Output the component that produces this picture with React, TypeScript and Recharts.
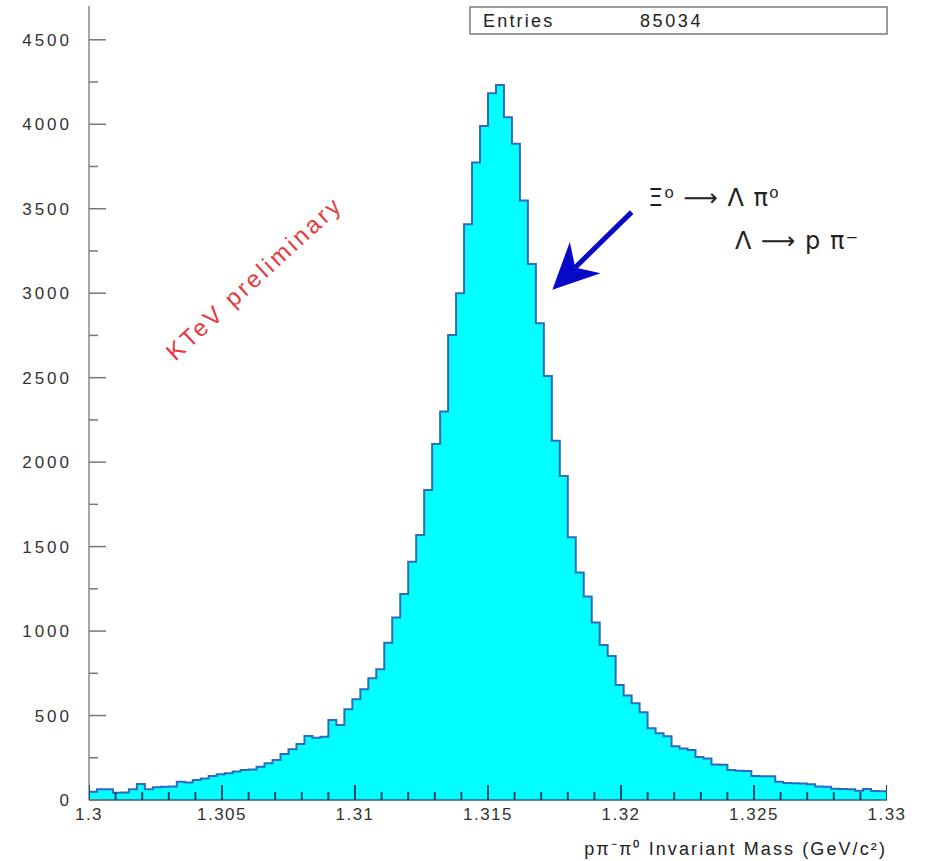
import React from 'react';
import { ComposedChart, Area, Scatter, XAxis, YAxis, ReferenceLine } from 'recharts';

// histogram binning (100 bins of 0.3 MeV)
const binLow = 1.3;
const binWidth = 0.0003;

// bin contents, left to right
const counts = [
  49, 63, 63, 43, 45, 63, 95, 63, 75, 79,
  80, 108, 103, 118, 128, 142, 152, 158, 168, 178,
  180, 197, 217, 237, 272, 300, 331, 379, 368, 375,
  474, 444, 537, 596, 655, 720, 774, 931, 1080, 1220,
  1411, 1569, 1835, 2108, 2299, 2753, 3000, 3408, 3773, 3990,
  4184, 4233, 4042, 3884, 3548, 3173, 2822, 2510, 2127, 1918,
  1555, 1346, 1204, 1050, 918, 853, 681, 618, 572, 519,
  425, 395, 377, 318, 305, 296, 255, 246, 210, 208,
  178, 173, 171, 142, 140, 141, 108, 100, 99, 98,
  93, 80, 78, 66, 65, 64, 55, 65, 53, 52,
];

const xMajorTicks = [1.3, 1.305, 1.31, 1.315, 1.32, 1.325, 1.33];
const xMinorStep = 0.001;
const yMajorTicks = [0, 500, 1000, 1500, 2000, 2500, 3000, 3500, 4000, 4500];
const yMinorStep = 250;
const yMax = 4700;
const entries = 85034;

// arrow annotation: tail -> tip, in data units
const arrowTail = { x: 1.3204, y: 3480 };
const arrowTip = { x: 1.31742, y: 3020 };

const FONT = '"Liberation Sans", Arial, Helvetica, sans-serif';
const X_TICK_MARGIN = 8;
const Y_TICK_MARGIN = 17;

const xMin = xMajorTicks[0];
const xMax = xMajorTicks[xMajorTicks.length - 1];
const xTicks = Array.from({ length: Math.round((xMax - xMin) / xMinorStep) + 1 }, (_, i) => +(xMin + i * xMinorStep).toFixed(4));
const yTicks = Array.from({ length: yMajorTicks[yMajorTicks.length - 1] / yMinorStep + 1 }, (_, i) => i * yMinorStep);

const data = counts.map((c, i) => ({ mass: +(binLow + i * binWidth).toFixed(5), count: c }));
data.push({ mass: xMax, count: counts[counts.length - 1] });

const isMajorX = (v: number) => xMajorTicks.some((t) => Math.abs(t - v) < 1e-7);

// x-axis tick marks sit on top of the fill, so they are drawn as a scatter series
const tickMarks = xTicks.map((v) => ({ mass: v, count: 0, major: isMajorX(v) }));

const TickMark = (p: any) => {
  const { cx, cy, payload } = p;
  if (cx == null || cy == null) return <g />;
  const len = payload && payload.major ? 15 : 8;
  return <path d={`M${cx},${cy}V${cy - len}`} stroke="#1d4a66" strokeWidth={2} fill="none" />;
};

const XTick = (props: any) => {
  const { x, y, payload } = props;
  const v = payload.value;
  if (!isMajorX(v)) return <g />;
  const axisY = y - X_TICK_MARGIN;
  return (
    <text x={x} y={axisY + 20} textAnchor="middle" fontSize={17} letterSpacing={1.5} fill="#333" fontFamily={FONT}>
      {parseFloat(v.toFixed(3)).toString()}
    </text>
  );
};

const YTick = (props: any) => {
  const { x, y, payload } = props;
  const v = payload.value;
  const major = v % 500 === 0;
  const axisX = x + Y_TICK_MARGIN;
  return (
    <g>
      <path d={`M${axisX},${y}H${axisX + (major ? 17 : 9)}`} stroke="#777" strokeWidth={1.5} fill="none" />
      {major && (
        <text x={x} y={y + 6} textAnchor="end" fontSize={17} letterSpacing={3} fill="#333" fontFamily={FONT}>
          {v}
        </text>
      )}
    </g>
  );
};

const ArrowShape = (p: any) => {
  const { x1, y1, x2, y2 } = p;
  const dx = x2 - x1;
  const dy = y2 - y1;
  const len = Math.hypot(dx, dy) || 1;
  const ux = dx / len;
  const uy = dy / len;
  const px = -uy;
  const py = ux;
  const headLen = 46;
  const half = 22;
  const notch = 32;
  const bx = x2 - ux * headLen;
  const by = y2 - uy * headLen;
  const nx = x2 - ux * notch;
  const ny = y2 - uy * notch;
  return (
    <g>
      <line x1={x1} y1={y1} x2={nx} y2={ny} stroke="#0808c8" strokeWidth={5} />
      <polygon
        points={`${x2},${y2} ${bx + px * half},${by + py * half} ${nx},${ny} ${bx - px * half},${by - py * half}`}
        fill="#0808c8"
      />
    </g>
  );
};

export default function App() {
  return (
    <div style={{ position: 'absolute', left: 0, top: 0, width: 925, height: 861, background: '#fff' }}>
      <ComposedChart width={925} height={861} data={data} margin={{ top: 6, right: 38, bottom: 0, left: 0 }}>
        <XAxis
          xAxisId="main"
          dataKey="mass"
          type="number"
          domain={[xMin, xMax]}
          ticks={xTicks}
          interval={0}
          height={61}
          tickSize={0}
          tickMargin={X_TICK_MARGIN}
          tickLine={false}
          tick={<XTick />}
          axisLine={{ stroke: '#35607a', strokeWidth: 1.5 }}
          allowDataOverflow
        />
        <XAxis
          xAxisId="top"
          orientation="top"
          type="number"
          domain={[xMin, xMax]}
          height={0}
          tick={false}
          tickLine={false}
          axisLine={{ stroke: '#888', strokeWidth: 1.2 }}
        />
        <YAxis
          yAxisId="main"
          type="number"
          domain={[0, yMax]}
          ticks={yTicks}
          interval={0}
          width={89}
          tickSize={0}
          tickMargin={Y_TICK_MARGIN}
          tickLine={false}
          tick={<YTick />}
          axisLine={{ stroke: '#888', strokeWidth: 1.5 }}
          allowDataOverflow
        />
        <YAxis
          yAxisId="right"
          orientation="right"
          type="number"
          domain={[0, yMax]}
          width={0}
          tick={false}
          tickLine={false}
          axisLine={{ stroke: '#888', strokeWidth: 1.2 }}
        />
        <Area
          type="stepAfter"
          dataKey="count"
          xAxisId="main"
          yAxisId="main"
          fill="#00ffff"
          fillOpacity={1}
          stroke="#2d6bc0"
          strokeWidth={2}
          isAnimationActive={false}
          dot={false}
          activeDot={false}
        />
        <Scatter
          data={tickMarks}
          dataKey="count"
          xAxisId="main"
          yAxisId="main"
          shape={TickMark}
          isAnimationActive={false}
        />
        <ReferenceLine
          xAxisId="main"
          yAxisId="main"
          segment={[arrowTail, arrowTip]}
          shape={ArrowShape}
        />
      </ComposedChart>

      <svg
        width={925}
        height={861}
        style={{ position: 'absolute', left: 0, top: 0, pointerEvents: 'none' }}
        fontFamily={FONT}
      >
        {/* stats box */}
        <rect x={470} y={7} width={417} height={27} fill="#fff" stroke="#666" strokeWidth={1.3} />
        <text x={483} y={27} fontSize={18} letterSpacing={2.2} fill="#222">Entries</text>
        <text x={640} y={27} fontSize={18} letterSpacing={2.6} fill="#222">{entries}</text>

        {/* decay annotation */}
        <text x={648} y={206} fontSize={24} letterSpacing={1} fill="#222" fontFamily='"DejaVu Sans", sans-serif'>
          Ξ⁰ ⟶ Λ π⁰
        </text>
        <text x={735} y={249} fontSize={24} letterSpacing={1} fill="#222" fontFamily='"DejaVu Sans", sans-serif'>
          Λ ⟶ p π⁻
        </text>

        {/* watermark */}
        <text
          x={254}
          y={278}
          fontSize={24}
          letterSpacing={3}
          fill="#e8383d"
          textAnchor="middle"
          dominantBaseline="central"
          transform="rotate(-42.5 254 278)"
        >
          KTeV preliminary
        </text>

        {/* x axis title */}
        <text x={887} y={855} fontSize={18} letterSpacing={2.1} textAnchor="end" fill="#222">
          pπ⁻π⁰ Invariant Mass (GeV/c²)
        </text>
      </svg>
    </div>
  );
}
